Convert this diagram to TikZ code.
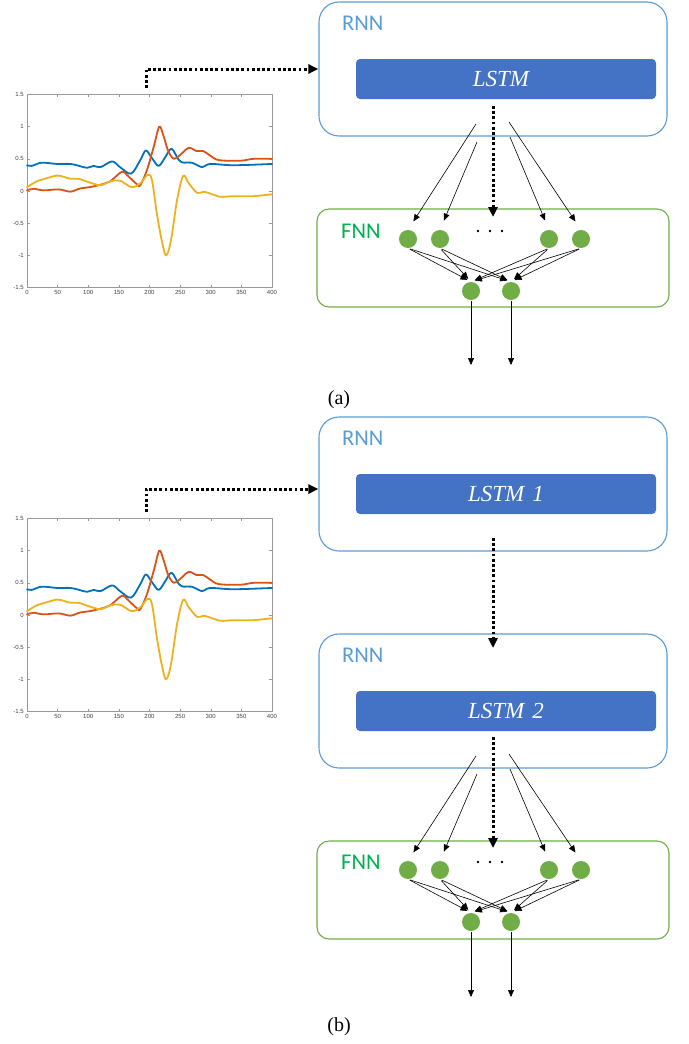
\documentclass[tikz,border=0pt]{standalone}
\usepackage{fontspec}
\setmainfont{Liberation Serif}
\newfontfamily\labelfont{Carlito}
\newfontfamily\tickfont{Liberation Sans}
\usetikzlibrary{arrows.meta,calc}

\definecolor{rnnblue}{HTML}{5B9BD5}
\definecolor{lstmblue}{HTML}{4472C4}
\definecolor{fnngreen}{HTML}{70AD47}
\definecolor{fnntext}{HTML}{00B050}
\definecolor{mblue}{HTML}{0072BD}
\definecolor{mred}{HTML}{D95319}
\definecolor{myellow}{HTML}{EDB120}

% signal plot with its axes; #1 = vertical position of the zero line
\newcommand\signalplot[1]{%
\begin{scope}[shift={(27,#1)}, x=0.6125pt, y=64.4pt]
  \draw[axisline] (0,-1.5) rectangle (400,1.5);
  \foreach \t in {0,50,...,400} {
    \draw[axisline] (\t,-1.5) -- ++(0,0.045);
    \draw[axisline] (\t,1.5) -- ++(0,-0.045);
    \node[ticklabel, anchor=north, yshift=-2.5pt] at (\t,-1.5) {\t};
  }
  \foreach \v in {-1.5,-1,-0.5,0,0.5,1,1.5} {
    \draw[axisline] (0,\v) -- ++(4.9,0);
    \draw[axisline] (400,\v) -- ++(-4.9,0);
    \node[ticklabel, anchor=east] at (-4.9,\v) {\v};
  }
  \draw[curve, mblue] plot[smooth, tension=0.55] coordinates {
    (0,0.40) (8,0.39) (24,0.44) (49,0.42) (71,0.42) (85,0.39) (98,0.36)
    (109,0.39) (120,0.37) (139,0.46) (152,0.37) (170,0.27) (185,0.48)
    (194,0.63) (204,0.51) (215,0.39) (226,0.53) (236,0.655) (248,0.48)
    (256,0.44) (269,0.44) (286,0.37) (299,0.42) (337,0.40) (400,0.42)};
  \draw[curve, mred] plot[smooth, tension=0.55] coordinates {
    (0,0.01) (11,0.035) (27,0.01) (52,0.025) (71,-0.01) (87,0.04)
    (103,0.06) (125,0.11) (136,0.15) (155,0.30) (163,0.25) (180,0.10)
    (185,0.09) (196,0.33) (207,0.69) (216,1.0) (223,0.85) (231,0.61)
    (240,0.5) (250,0.56) (264,0.67) (277,0.62) (288,0.62) (299,0.55)
    (313,0.48) (348,0.47) (370,0.50) (400,0.50)};
  \draw[curve, myellow] plot[smooth, tension=0.55] coordinates {
    (0,0.06) (16,0.15) (33,0.20) (49,0.24) (60,0.22) (71,0.19) (84,0.19)
    (103,0.13) (120,0.09) (136,0.15) (152,0.16) (171,0.06) (185,0.12)
    (197,0.25) (204,0.17) (212,-0.35) (220,-0.77) (227,-1.0) (235,-0.77)
    (245,-0.14) (255,0.235) (264,0.12) (278,-0.03) (288,-0.01) (299,-0.04)
    (316,-0.09) (337,-0.08) (370,-0.08) (400,-0.05)};
\end{scope}}

\begin{document}
\begin{tikzpicture}[x=1pt, y=-1pt,
  axisline/.style={draw=black!40, line width=0.5pt},
  ticklabel/.style={font=\tickfont\fontsize{6}{7}\selectfont, text=black!75, inner sep=0pt},
  curve/.style={line width=1.8pt, line cap=round, line join=round},
  rnnbox/.style={draw=rnnblue, line width=1.1pt, rounded corners=20pt,
    minimum width=348pt, minimum height=134pt, inner sep=0pt},
  lstmbox/.style={fill=lstmblue, rounded corners=4pt, minimum width=300pt,
    minimum height=40pt, text=white, font=\itshape\fontsize{23}{26}\selectfont, inner sep=0pt},
  fnnbox/.style={draw=fnngreen, line width=1.1pt, rounded corners=12pt,
    minimum width=352pt, minimum height=98pt, inner sep=0pt},
  neuron/.style={circle, fill=fnngreen, minimum size=18pt, inner sep=0pt},
  rnnlabel/.style={font=\labelfont\fontsize{22.5}{26}\selectfont, text=rnnblue,
    inner sep=0pt, anchor=base west},
  fnnlabel/.style={font=\labelfont\fontsize{22.5}{26}\selectfont, text=fnntext,
    inner sep=0pt, anchor=base west},
  caption/.style={font=\fontsize{20}{24}\selectfont, inner sep=0pt},
  thinarrow/.style={-{Triangle[length=7pt,width=6pt]}, line width=0.6pt},
  dotarrow/.style={line width=3pt, dash pattern=on 2.7pt off 2.5pt,
    -{Triangle[length=10pt,width=9pt]}},
]
\useasboundingbox (0,0) rectangle (688,1044);

% ---------------- (a) ----------------
\signalplot{191}

\node[rnnbox]  (rnnA)  at (493,69)  {};
\node[rnnlabel] (rnnAl) at (342,30) {RNN};
\node[lstmbox] (lstmA) at (506,79)  {\hspace*{-10pt}LSTM};

\node[fnnbox]  (fnnA)  at (493,258) {};
\node[fnnlabel] (fnnAl) at (341,238) {FNN};
\node[neuron] (a1) at (408,239) {};
\node[neuron] (a2) at (440,239) {};
\node[neuron] (a3) at (549,239) {};
\node[neuron] (a4) at (581,239) {};
\node[neuron] (ao1) at (471,291) {};
\node[neuron] (ao2) at (511,291) {};
\foreach \xx in {478,490,502} \fill (\xx,231) circle (1.4pt);

\coordinate (inA)  at (146,88);
\coordinate (dA)   at (493,106);
\coordinate (dAe)  at (493,217);
\coordinate (sA1)  at (476,124);
\coordinate (sA2)  at (477,142);
\coordinate (sA3)  at (510,137);
\coordinate (sA4)  at (509,122);
\coordinate (eA1)  at (471,365);
\coordinate (eA2)  at (511,365);

\draw[dotarrow] (inA) |- (rnnA.west);
\draw[dotarrow] (dA) -- (dAe);
\draw[thinarrow, shorten >=10pt] (sA1) -- (a1.north);
\draw[thinarrow, shorten >=10pt] (sA2) -- (a2.north);
\draw[thinarrow, shorten >=10pt] (sA3) -- (a3.north);
\draw[thinarrow, shorten >=10pt] (sA4) -- (a4.north);
\foreach \i in {a1,a2,a3,a4} {
  \draw[thinarrow, shorten <=2pt, shorten >=4pt] (\i.south) -- (ao1.north);
  \draw[thinarrow, shorten <=2pt, shorten >=4pt] (\i.south) -- (ao2.north);
}
\draw[thinarrow, shorten <=1pt] (ao1.south) -- (eA1);
\draw[thinarrow, shorten <=1pt] (ao2.south) -- (eA2);

\node[caption] (capA) at (339,400) {(a)};

% ---------------- (b) ----------------
\signalplot{615}

\node[rnnbox]  (rnnB1)  at (493,484) {};
\node[rnnlabel] (rnnB1l) at (342,445) {RNN};
\node[lstmbox] (lstmB1) at (506,494) {LSTM\hspace{8pt}1};

\node[rnnbox]  (rnnB2)  at (493,701) {};
\node[rnnlabel] (rnnB2l) at (342,662) {RNN};
\node[lstmbox] (lstmB2) at (506,711) {LSTM\hspace{8pt}2};

\node[fnnbox]  (fnnB)  at (493,890) {};
\node[fnnlabel] (fnnBl) at (341,869) {FNN};
\node[neuron] (b1) at (408,870) {};
\node[neuron] (b2) at (440,870) {};
\node[neuron] (b3) at (549,870) {};
\node[neuron] (b4) at (581,870) {};
\node[neuron] (bo1) at (471,922) {};
\node[neuron] (bo2) at (511,922) {};
\foreach \xx in {478,490,502} \fill (\xx,862) circle (1.4pt);

\coordinate (inB)  at (146,512);
\coordinate (dB1)  at (493,538);
\coordinate (dB1e) at (493,648);
\coordinate (dB2)  at (493,737);
\coordinate (dB2e) at (493,848);
\coordinate (sB1)  at (476,756);
\coordinate (sB2)  at (477,774);
\coordinate (sB3)  at (510,769);
\coordinate (sB4)  at (509,754);
\coordinate (eB1)  at (471,997);
\coordinate (eB2)  at (511,997);

\draw[dotarrow] (inB) |- ([yshift=-5pt]rnnB1.west);
\draw[dotarrow] (dB1) -- (dB1e);
\draw[dotarrow] (dB2) -- (dB2e);
\draw[thinarrow, shorten >=10pt] (sB1) -- (b1.north);
\draw[thinarrow, shorten >=10pt] (sB2) -- (b2.north);
\draw[thinarrow, shorten >=10pt] (sB3) -- (b3.north);
\draw[thinarrow, shorten >=10pt] (sB4) -- (b4.north);
\foreach \i in {b1,b2,b3,b4} {
  \draw[thinarrow, shorten <=2pt, shorten >=4pt] (\i.south) -- (bo1.north);
  \draw[thinarrow, shorten <=2pt, shorten >=4pt] (\i.south) -- (bo2.north);
}
\draw[thinarrow, shorten <=1pt] (bo1.south) -- (eB1);
\draw[thinarrow, shorten <=1pt] (bo2.south) -- (eB2);

\node[caption] (capB) at (339,1027) {(b)};
\end{tikzpicture}
\end{document}
